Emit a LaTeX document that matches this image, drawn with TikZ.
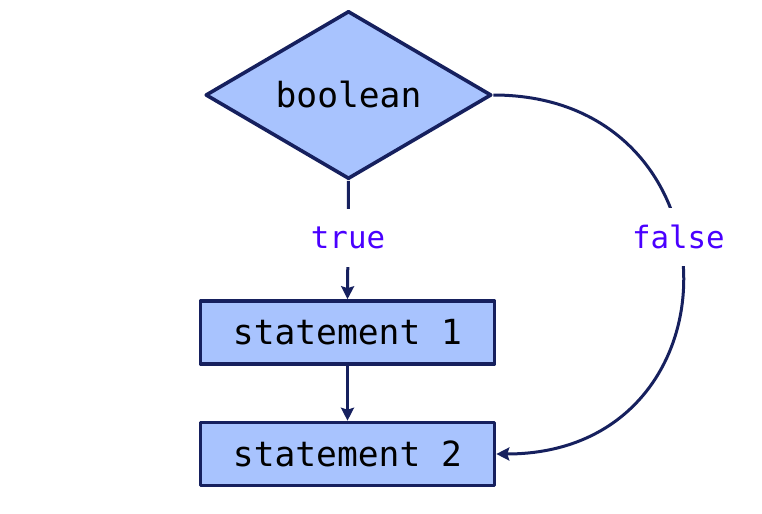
\documentclass[tikz,border=0pt]{standalone}
\usepackage{fontspec}
\setmonofont{DejaVu Sans Mono}
\usetikzlibrary{arrows.meta,shapes.geometric}
\definecolor{flowfill}{HTML}{A8C3FE}
\definecolor{flowedge}{HTML}{16205E}
\definecolor{guardviolet}{HTML}{4A00FF}

\begin{document}
\begin{tikzpicture}[
  x=0.5pt,
  y=-0.5pt,
  line join=round,
  decision/.style={shape=diamond,draw=flowedge,fill=flowfill,line width=1.8pt,
    minimum width=143pt,minimum height=84pt,aspect=1.7,inner sep=0pt,
    font=\ttfamily\fontsize{17.3}{20}\selectfont},
  stmtbox/.style={shape=rectangle,draw=flowedge,fill=flowfill,line width=1.8pt,
    minimum width=147pt,minimum height=31.5pt,inner sep=0pt,
    font=\ttfamily\fontsize{17.3}{20}\selectfont},
  flow/.style={draw=flowedge,line width=1.5pt,
    -{Stealth[length=6.5pt,width=6.5pt,inset=1pt]}},
  guard/.style={fill=white,text=guardviolet,inner sep=0pt,
    minimum width=50pt,minimum height=29pt,
    font=\ttfamily\fontsize{15.4}{18}\selectfont}
]
  % Page frame keeps the reference margins.
  \useasboundingbox (0,0) rectangle (762,514);

  % Decision and the two statements.
  \node[decision] (cond) at (348.5,95) {boolean};
  \node[stmtbox] (stmtA) at (347.5,332.5) {statement 1};
  \node[stmtbox] (stmtB) at (347.5,454) {statement 2};

  % True branch runs straight down, false branch swings round on the right.
  \draw[flow] (cond.south) -- node[guard,pos=0.48] {true} (stmtA.north);
  \draw[flow] (stmtA.south) -- (stmtB.north);
  \draw[flow] (cond.east) to[out=0,in=0,looseness=1.78]
    node[guard,pos=0.43] {false} (stmtB.east);
\end{tikzpicture}
\end{document}
